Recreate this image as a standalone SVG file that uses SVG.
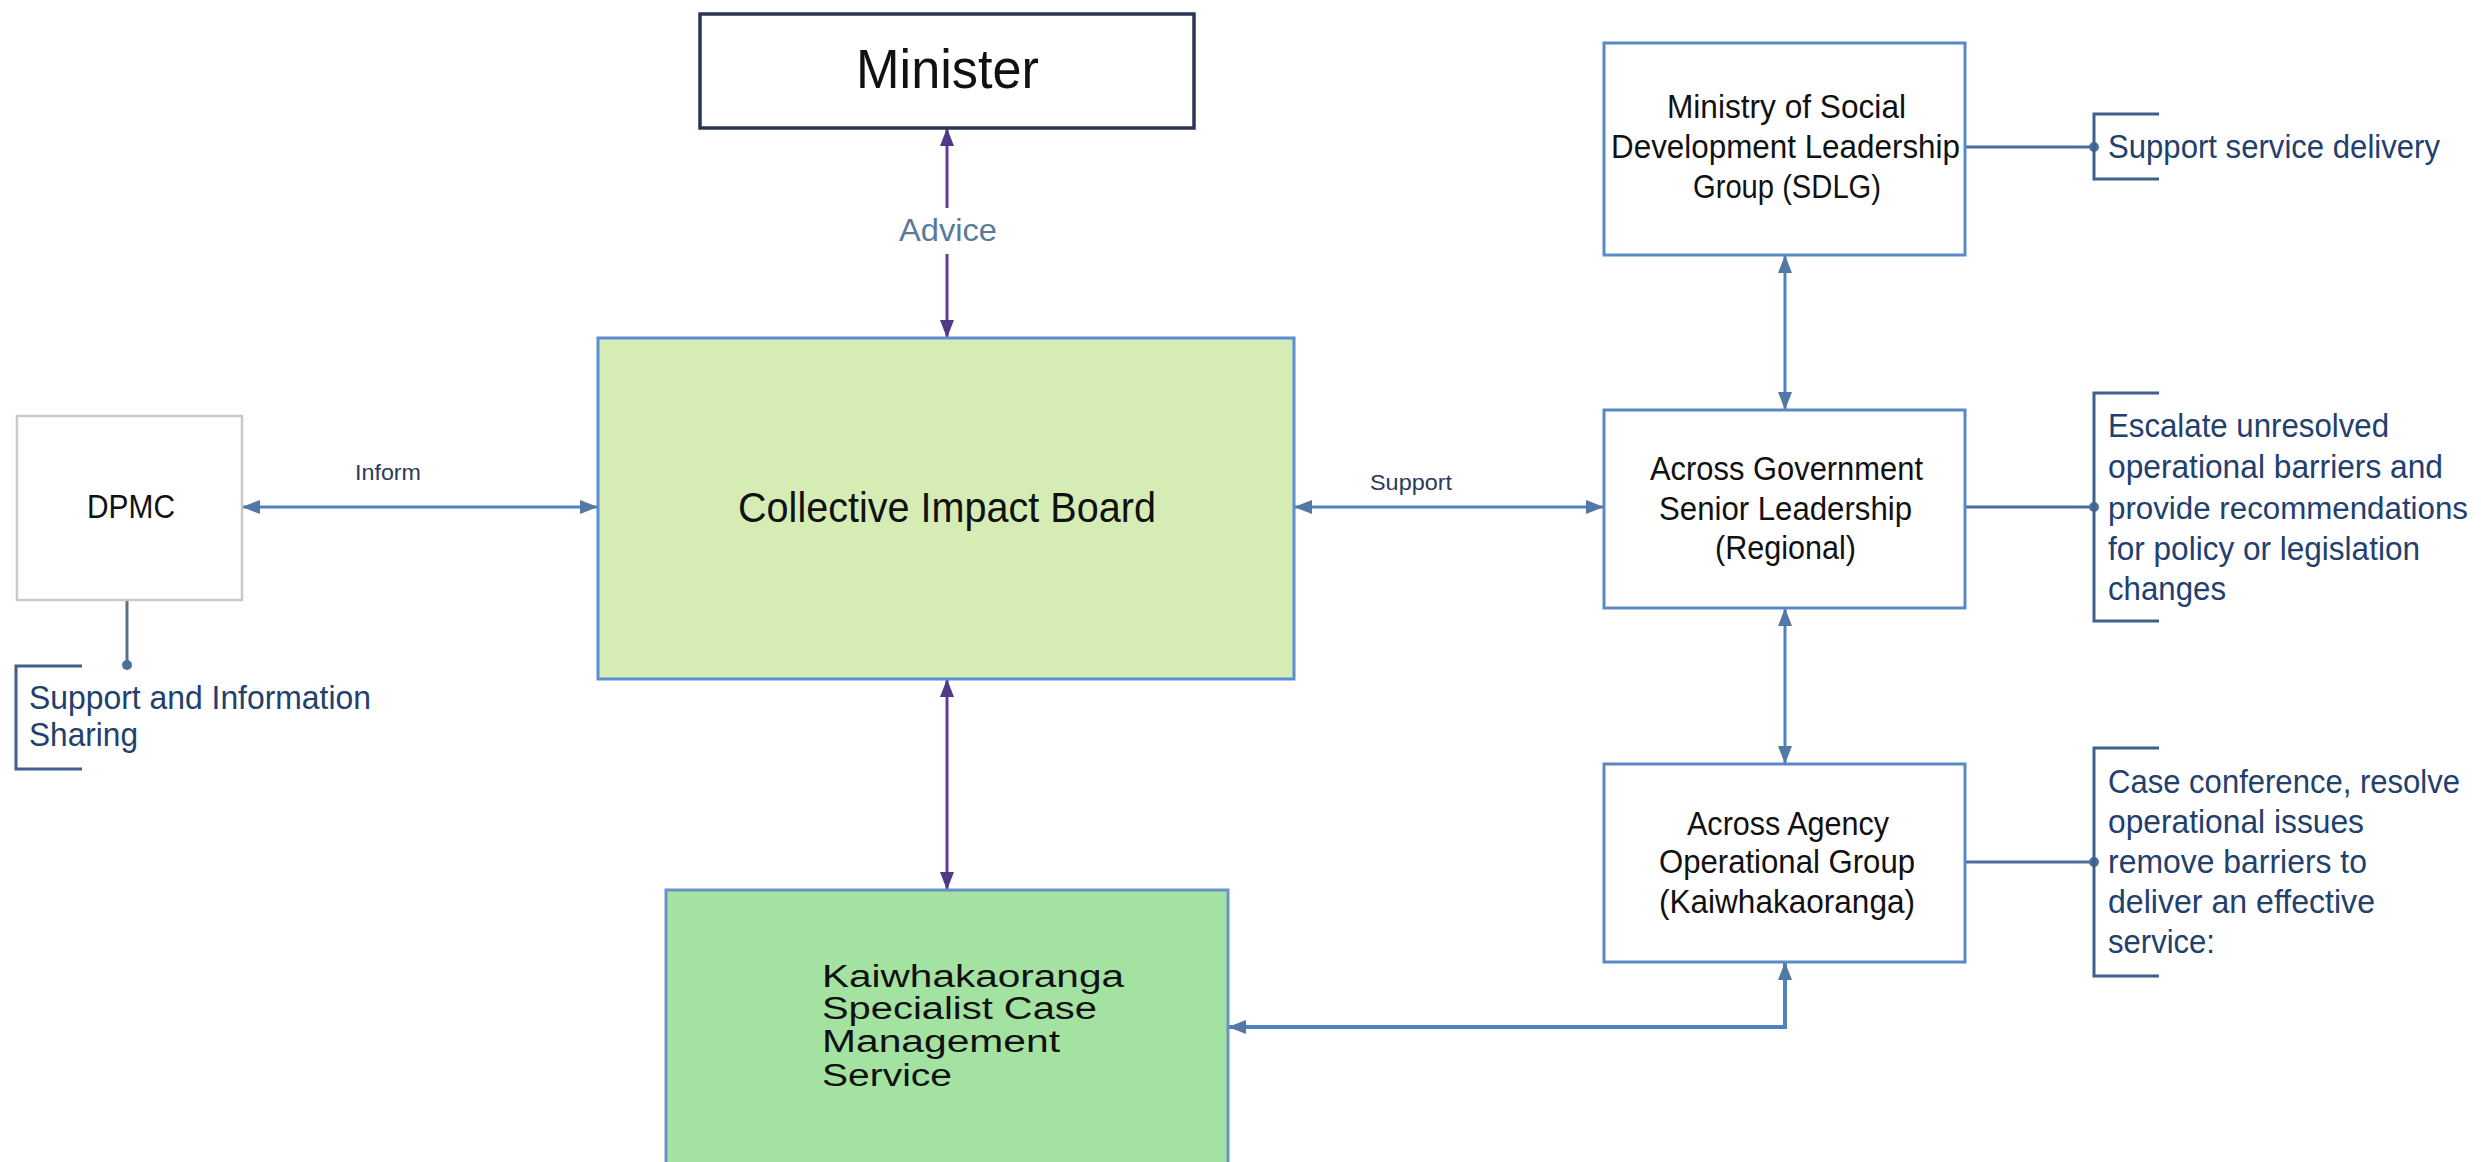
<svg xmlns="http://www.w3.org/2000/svg" width="2481" height="1162" viewBox="0 0 2481 1162">
<style>
text{font-family:"Liberation Sans",Arial,sans-serif;fill:#111}
.box{fill:#fff;stroke:#5a8ac6;stroke-width:3}
.bt{font-size:34px}
.co{font-size:33px;fill:#22406e}
.lbl{font-size:22px;fill:#2b3a5a}
.kt{font-size:31px}
.bl{fill:none;stroke:#4f82c0;stroke-width:3}
.pl{fill:none;stroke:#5c3d99;stroke-width:3}
.cl{fill:none;stroke:#4a6f9c;stroke-width:3}
.br{fill:none;stroke:#3f5f8c;stroke-width:3}
.dot{fill:#4a6f9c}
</style>
<defs>
<marker id="ab" viewBox="0 0 18 14" refX="18" refY="7" markerWidth="18" markerHeight="14" markerUnits="userSpaceOnUse" orient="auto-start-reverse"><path d="M0,0 L18,7 L0,14 z" fill="#5279a6"/></marker>
<marker id="ap" viewBox="0 0 18 14" refX="18" refY="7" markerWidth="18" markerHeight="14" markerUnits="userSpaceOnUse" orient="auto-start-reverse"><path d="M0,0 L18,7 L0,14 z" fill="#4e3a86"/></marker>
</defs>
<rect width="2481" height="1162" fill="#fff"/>
<g id="connectors">
<path class="pl" d="M947,128 V208" marker-start="url(#ap)"/>
<path class="pl" d="M947,254 V338" marker-end="url(#ap)"/>
<path class="pl" d="M947,679 V890" marker-start="url(#ap)" marker-end="url(#ap)"/>
<path class="bl" d="M242,507 H598" marker-start="url(#ab)" marker-end="url(#ab)"/>
<path class="bl" d="M1294,507 H1604" marker-start="url(#ab)" marker-end="url(#ab)"/>
<path class="bl" d="M1785,255 V410" marker-start="url(#ab)" marker-end="url(#ab)"/>
<path class="bl" d="M1785,608 V764" marker-start="url(#ab)" marker-end="url(#ab)"/>
<path class="bl" style="stroke-width:4" d="M1785,962 V1027 H1228" marker-start="url(#ab)" marker-end="url(#ab)"/>
<path class="cl" d="M1965,147 H2094"/>
<path class="cl" d="M1965,507 H2094"/>
<path class="cl" d="M1965,862 H2094"/>
<path class="cl" style="stroke:#5a6f8a" d="M127,600 V665"/>
<circle class="dot" cx="2094" cy="147" r="5"/>
<circle class="dot" cx="2094" cy="507" r="5"/>
<circle class="dot" cx="2094" cy="862" r="5"/>
<circle class="dot" cx="127" cy="665" r="5"/>
<text x="899" y="241" style="font-size:32px;fill:#5a7a9a" textLength="98" lengthAdjust="spacingAndGlyphs">Advice</text>
<text class="lbl" x="355" y="480" textLength="66" lengthAdjust="spacingAndGlyphs">Inform</text>
<text class="lbl" x="1370" y="490" textLength="82" lengthAdjust="spacingAndGlyphs">Support</text>
</g>
<g id="minister">
<rect x="700" y="14" width="494" height="114" fill="#fff" stroke="#2b3556" stroke-width="3.5"/>
<text x="856" y="88" style="font-size:56px" textLength="183" lengthAdjust="spacingAndGlyphs">Minister</text>
</g>
<g id="collective-impact-board">
<rect x="598" y="338" width="696" height="341" fill="#d5edb5" stroke="#5b8ed4" stroke-width="3"/>
<text x="738" y="522" style="font-size:42px" textLength="418" lengthAdjust="spacingAndGlyphs">Collective Impact Board</text>
</g>
<g id="dpmc">
<rect x="17" y="416" width="225" height="184" fill="#fff" stroke="#c9c9c9" stroke-width="2.5"/>
<text x="87" y="518" style="font-size:33px" textLength="88" lengthAdjust="spacingAndGlyphs">DPMC</text>
</g>
<g id="dpmc-note">
<path class="br" d="M82,666 H16 V769 H82"/>
<text class="co" x="29" y="709" textLength="342" lengthAdjust="spacingAndGlyphs">Support and Information</text>
<text class="co" x="29" y="746" textLength="109" lengthAdjust="spacingAndGlyphs">Sharing</text>
</g>
<g id="sdlg">
<rect class="box" x="1604" y="43" width="361" height="212"/>
<text class="bt" x="1667" y="118" textLength="239" lengthAdjust="spacingAndGlyphs">Ministry of Social</text>
<text class="bt" x="1611" y="158" textLength="349" lengthAdjust="spacingAndGlyphs">Development Leadership</text>
<text class="bt" x="1693" y="198" textLength="188" lengthAdjust="spacingAndGlyphs">Group (SDLG)</text>
</g>
<g id="sdlg-note">
<path class="br" d="M2159,114 H2094 V179 H2159"/>
<text class="co" x="2108" y="158" textLength="332" lengthAdjust="spacingAndGlyphs">Support service delivery</text>
</g>
<g id="regional">
<rect class="box" x="1604" y="410" width="361" height="198"/>
<text class="bt" x="1650" y="480" textLength="273" lengthAdjust="spacingAndGlyphs">Across Government</text>
<text class="bt" x="1659" y="520" textLength="253" lengthAdjust="spacingAndGlyphs">Senior Leadership</text>
<text class="bt" x="1715" y="559" textLength="141" lengthAdjust="spacingAndGlyphs">(Regional)</text>
</g>
<g id="regional-note">
<path class="br" d="M2159,393 H2094 V621 H2159"/>
<text class="co" x="2108" y="437" textLength="281" lengthAdjust="spacingAndGlyphs">Escalate unresolved</text>
<text class="co" x="2108" y="478" textLength="335" lengthAdjust="spacingAndGlyphs">operational barriers and</text>
<text class="co" x="2108" y="519" style="font-size:31px" textLength="360" lengthAdjust="spacingAndGlyphs">provide recommendations</text>
<text class="co" x="2108" y="560" textLength="312" lengthAdjust="spacingAndGlyphs">for policy or legislation</text>
<text class="co" x="2108" y="600" textLength="118" lengthAdjust="spacingAndGlyphs">changes</text>
</g>
<g id="agency">
<rect class="box" x="1604" y="764" width="361" height="198"/>
<text class="bt" x="1687" y="835" textLength="202" lengthAdjust="spacingAndGlyphs">Across Agency</text>
<text class="bt" x="1659" y="873" textLength="256" lengthAdjust="spacingAndGlyphs">Operational Group</text>
<text class="bt" x="1659" y="913" textLength="256" lengthAdjust="spacingAndGlyphs">(Kaiwhakaoranga)</text>
</g>
<g id="agency-note">
<path class="br" d="M2159,748 H2094 V976 H2159"/>
<text class="co" x="2108" y="793" textLength="352" lengthAdjust="spacingAndGlyphs">Case conference, resolve</text>
<text class="co" x="2108" y="833" textLength="256" lengthAdjust="spacingAndGlyphs">operational issues</text>
<text class="co" x="2108" y="873" textLength="259" lengthAdjust="spacingAndGlyphs">remove barriers to</text>
<text class="co" x="2108" y="913" textLength="267" lengthAdjust="spacingAndGlyphs">deliver an effective</text>
<text class="co" x="2108" y="953" textLength="107" lengthAdjust="spacingAndGlyphs">service:</text>
</g>
<g id="kaiwhakaoranga">
<rect x="666" y="890" width="562" height="290" fill="#a4e2a2" stroke="#6a92cc" stroke-width="3"/>
<text class="kt" x="822" y="987" textLength="302" lengthAdjust="spacingAndGlyphs">Kaiwhakaoranga</text>
<text class="kt" x="822" y="1019" textLength="275" lengthAdjust="spacingAndGlyphs">Specialist Case</text>
<text class="kt" x="822" y="1052" textLength="238" lengthAdjust="spacingAndGlyphs">Management</text>
<text class="kt" x="822" y="1086" textLength="130" lengthAdjust="spacingAndGlyphs">Service</text>
</g>
</svg>
